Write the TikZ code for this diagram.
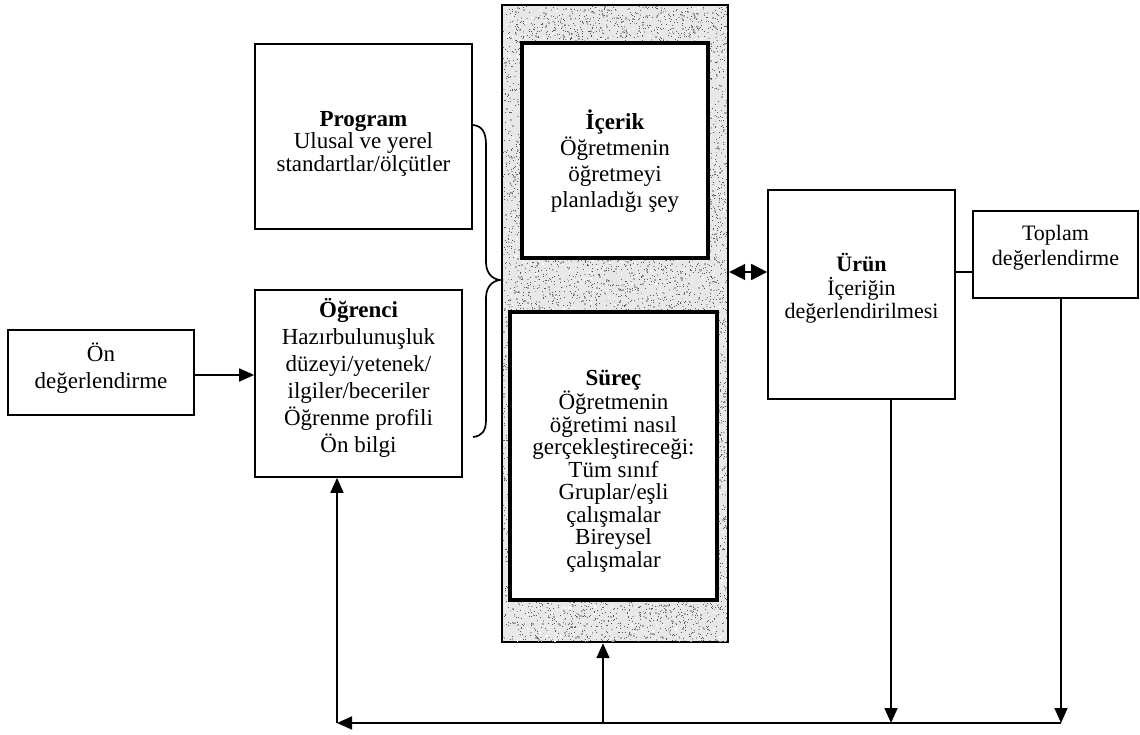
\documentclass[tikz,border=0pt]{standalone}
\usepackage{fontspec}
\setmainfont{Liberation Serif}
\usetikzlibrary{arrows.meta}
\begin{document}
\begin{tikzpicture}[x=1pt,y=-1pt,
  box/.style={draw, line width=1.7pt, fill=white, inner sep=0pt},
  inbox/.style={draw, line width=3.2pt, fill=white, inner sep=0pt},
  txt/.style={align=center, inner sep=0pt},
  link/.style={line width=1.7pt},
  tip/.style={-{Triangle[length=15pt,width=13pt]}},
  twotip/.style={{Triangle[length=16pt,width=16pt]}-{Triangle[length=16pt,width=16pt]}},
  speckdark/.style={fill=black!65},
  speckmid/.style={fill=black!35},
  specklight/.style={fill=white},
]
\useasboundingbox (0,0) rectangle (1140,735);

% stippled frame holding the content and process boxes
\node[draw, line width=2.4pt, fill=black!9, minimum width=226pt, minimum height=637pt, inner sep=0pt] (panel) at (615,323.5) {};
\begin{scope}
  \clip (503,6) rectangle (727,641);
  \pgfmathsetseed{7}
  \foreach \i in {1,...,3000}{
    \fill[speckmid] ({503+224*rnd},{6+635*rnd}) rectangle ++(1.6,1.6);
  }
  \foreach \i in {1,...,7000}{
    \fill[speckdark] ({503+224*rnd},{6+635*rnd}) rectangle ++(1,1);
  }
  \foreach \i in {1,...,1500}{
    \fill[specklight] ({503+224*rnd},{6+635*rnd}) rectangle ++(1.4,1.4);
  }
\end{scope}

% boxes
\node[box, minimum width=186pt, minimum height=85pt] (on) at (101,372.5) {};
\node[box, minimum width=217pt, minimum height=185pt] (prog) at (363.5,136.5) {};
\node[box, minimum width=207pt, minimum height=187pt] (og) at (358.5,383.5) {};
\node[inbox, minimum width=186pt, minimum height=215pt] (icerik) at (615,150.5) {};
\node[inbox, minimum width=207pt, minimum height=288pt] (surec) at (613.5,456) {};
\node[box, minimum width=187pt, minimum height=209pt] (urun) at (861.5,294.5) {};
\node[box, minimum width=165pt, minimum height=87pt] (toplam) at (1055.5,254.5) {};

% texts
\node[txt, font=\fontsize{23}{27}\selectfont] (on-t) at (101,368.5) {Ön\\değerlendirme};
\node[txt, font=\fontsize{23}{22.5}\selectfont] (prog-t) at (363.5,143.5) {\textbf{Program}\\Ulusal ve yerel\\standartlar/ölçütler};
\node[txt, font=\fontsize{23}{27}\selectfont] (og-t) at (358.5,377.5) {\textbf{Öğrenci}\\Hazırbulunuşluk\\düzeyi/yetenek/\\ilgiler/beceriler\\Öğrenme profili\\Ön bilgi};
\node[txt, font=\fontsize{23}{26}\selectfont] (icerik-t) at (615,161) {\textbf{İçerik}\\Öğretmenin\\öğretmeyi\\planladığı şey};
\node[txt, font=\fontsize{23}{22.5}\selectfont] (surec-t) at (613.5,471) {\textbf{Süreç}\\Öğretmenin\\öğretimi nasıl\\gerçekleştireceği:\\Tüm sınıf\\Gruplar/eşli\\çalışmalar\\Bireysel\\çalışmalar};
\node[txt, font=\fontsize{22}{23.5}\selectfont] (urun-t) at (861.5,288.5) {\textbf{Ürün}\\İçeriğin\\değerlendirilmesi};
\node[txt, font=\fontsize{22}{25}\selectfont] (toplam-t) at (1055.5,247.5) {Toplam\\değerlendirme};

% helper coordinates
\coordinate (a1) at (0,375);
\coordinate (a2) at (0,272);
\coordinate (bl) at (337,723);
\coordinate (bm) at (603,723);
\coordinate (bu) at (891,723);
\coordinate (br) at (1061,723);
\coordinate (brtop) at (473,125);
\coordinate (brtip) at (500,280);
\coordinate (brbot) at (473,437);

% brace joining program and learner to the frame
\draw[link] (brtop) .. controls (482,126) and (486,132) .. (486,145)
  -- (486,262) .. controls (486,273) and (492,279) .. (brtip)
  .. controls (492,281) and (486,287) .. (486,298)
  -- (486,420) .. controls (486,431) and (482,436) .. (brbot);

% connectors
\draw[link, tip] (on.east |- a1) -- (og.west |- a1);
\draw[link, twotip] (panel.east |- a2) -- (urun.west |- a2);
\draw[link] (urun.east |- a2) -- (toplam.west |- a2);
\draw[link, tip] (urun.south -| bu) -- (bu);
\draw[link, tip] (toplam.south -| br) -- (br);
\draw[link, tip] (br) -- (bl);
\draw[link, tip] (bm) -- (bm |- panel.south);
\draw[link, tip] (bl) -- (bl |- og.south);
\end{tikzpicture}
\end{document}
